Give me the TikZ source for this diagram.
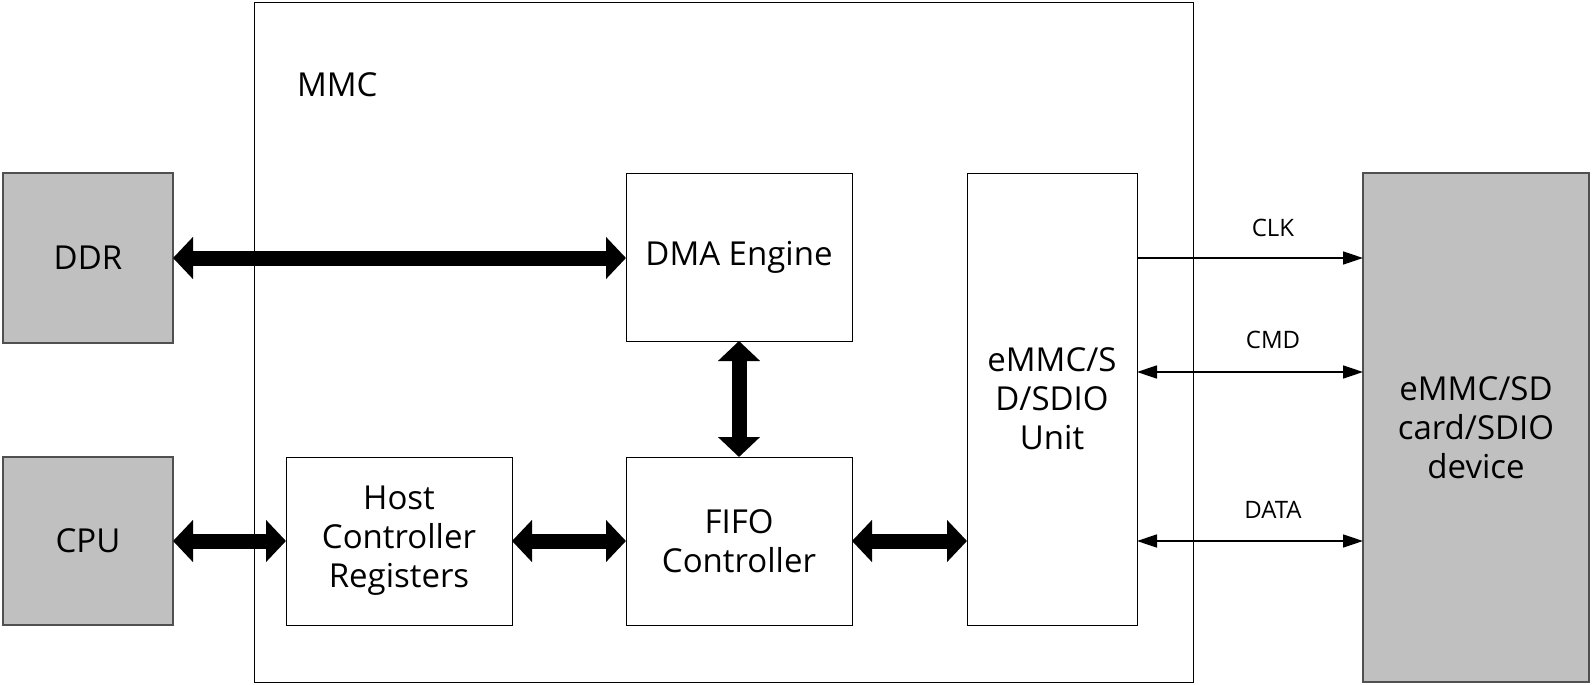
\documentclass[tikz,border=0pt]{standalone}
\usepackage{fontspec}
\setmainfont{Open Sans}
\usetikzlibrary{arrows.meta}
\definecolor{boxgray}{RGB}{192,192,192}
\definecolor{edgegray}{RGB}{80,80,80}
\begin{document}
\begin{tikzpicture}[x=0.5pt,y=-0.5pt,
  every node/.style={font=\fontsize{16.5}{19.5}\selectfont, inner sep=0pt, outer sep=0pt},
  box/.style={draw=black, line width=0.5pt, fill=white, align=center},
  graybox/.style={draw=edgegray, line width=0.6pt, fill=boxgray, align=center},
  bigarrow/.style={line width=7.5pt, {Triangle[length=10pt,width=20.5pt]}-{Triangle[length=10pt,width=20.5pt]}},
  thinarrow/.style={line width=0.8pt, -{Triangle[length=10pt,width=6.5pt]}},
  thinboth/.style={line width=0.8pt, {Triangle[length=10pt,width=6.5pt]}-{Triangle[length=10pt,width=6.5pt]}},
  sig/.style={font=\fontsize{12}{14}\selectfont, anchor=base}
]
\useasboundingbox (0,0) rectangle (1592,685);
\node[box, minimum width=469.5pt, minimum height=340pt] (mmc) at (723.5,342) {};
\node[anchor=base west] (mmclabel) at (297,97) {MMC};
\node[graybox, minimum width=85pt, minimum height=85pt] (ddr) at (88,258) {DDR};
\node[graybox, minimum width=85pt, minimum height=84pt] (cpu) at (88,541) {CPU};
\node[box, minimum width=113pt, minimum height=84pt] (dma) at (739,257) {DMA Engine};
\node[box, minimum width=113pt, minimum height=84pt] (host) at (399,541) {Host\\Controller\\Registers};
\node[box, minimum width=113pt, minimum height=84pt] (fifo) at (739,541) {FIFO\\Controller};
\node[box, minimum width=85pt, minimum height=226pt] (unit) at (1052,399) {eMMC/S\\D/SDIO\\Unit};
\node[graybox, minimum width=113pt, minimum height=254.5pt] (dev) at (1476,427.5) {eMMC/SD\\card/SDIO\\device};
\coordinate (clky) at (0,258);
\coordinate (cmdy) at (0,372);
\coordinate (datay) at (0,541);
\draw[bigarrow] (ddr.east |- clky) -- (dma.west |- clky);
\draw[bigarrow] (dma.south) -- (fifo.north);
\draw[bigarrow] (cpu.east) -- (host.west);
\draw[bigarrow] (host.east) -- (fifo.west);
\draw[bigarrow] (fifo.east) -- (unit.west |- fifo.east);
\draw[thinarrow] (unit.east |- clky) -- (dev.west |- clky);
\draw[thinboth] (unit.east |- cmdy) -- (dev.west |- cmdy);
\draw[thinboth] (unit.east |- datay) -- (dev.west |- datay);
\node[sig] (clk) at (1273,236) {CLK};
\node[sig] (cmd) at (1273,348) {CMD};
\node[sig] (data) at (1273,518) {DATA};
\end{tikzpicture}
\end{document}
